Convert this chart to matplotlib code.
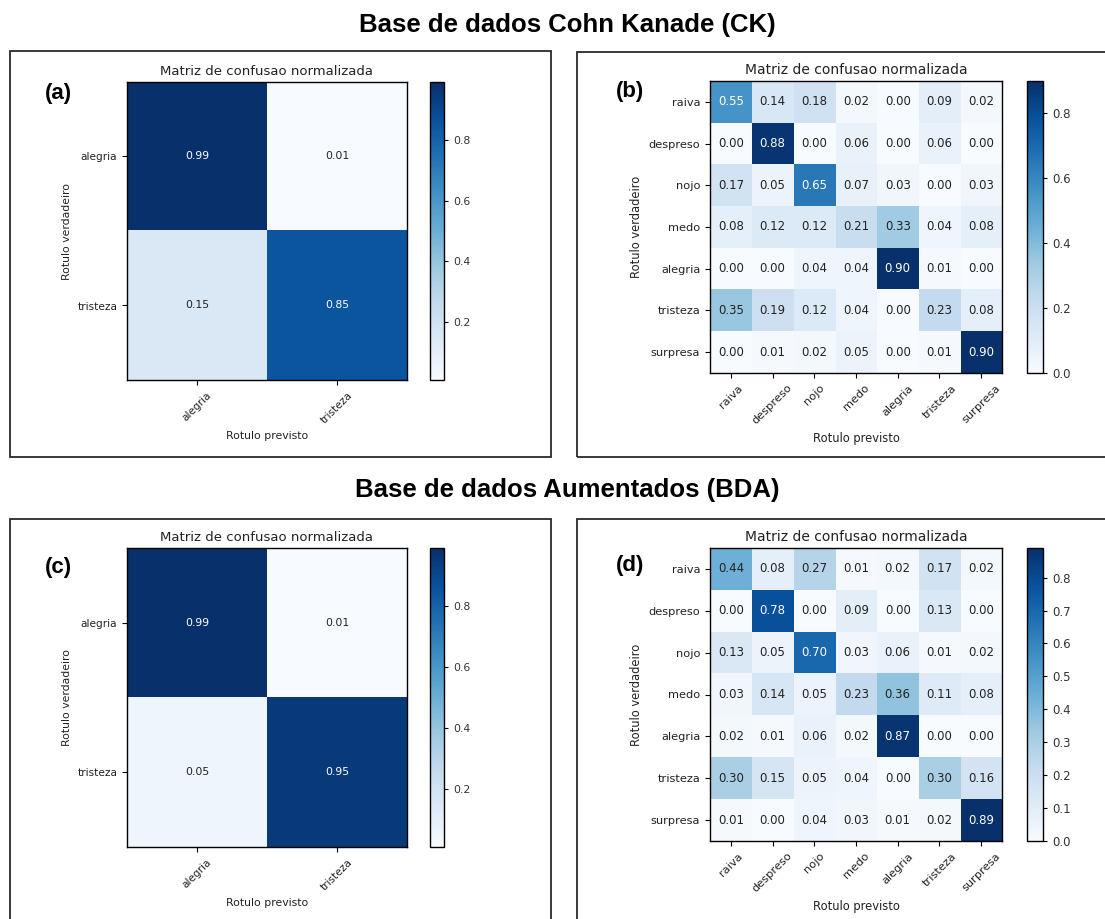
import numpy as np
import matplotlib
matplotlib.use("Agg")
import matplotlib.pyplot as plt
from matplotlib.patches import Rectangle

# Class labels
classes_2 = ["alegria", "tristeza"]
classes_7 = ["raiva", "despreso", "nojo", "medo", "alegria", "tristeza", "surpresa"]

# Normalized confusion matrices (rows: true label, cols: predicted label)
cm_ck_2 = [[0.99, 0.01],
           [0.15, 0.85]]

cm_ck_7 = [[0.55, 0.14, 0.18, 0.02, 0.00, 0.09, 0.02],
           [0.00, 0.88, 0.00, 0.06, 0.00, 0.06, 0.00],
           [0.17, 0.05, 0.65, 0.07, 0.03, 0.00, 0.03],
           [0.08, 0.12, 0.12, 0.21, 0.33, 0.04, 0.08],
           [0.00, 0.00, 0.04, 0.04, 0.90, 0.01, 0.00],
           [0.35, 0.19, 0.12, 0.04, 0.00, 0.23, 0.08],
           [0.00, 0.01, 0.02, 0.05, 0.00, 0.01, 0.90]]

cm_bda_2 = [[0.99, 0.01],
            [0.05, 0.95]]

cm_bda_7 = [[0.44, 0.08, 0.27, 0.01, 0.02, 0.17, 0.02],
            [0.00, 0.78, 0.00, 0.09, 0.00, 0.13, 0.00],
            [0.13, 0.05, 0.70, 0.03, 0.06, 0.01, 0.02],
            [0.03, 0.14, 0.05, 0.23, 0.36, 0.11, 0.08],
            [0.02, 0.01, 0.06, 0.02, 0.87, 0.00, 0.00],
            [0.30, 0.15, 0.05, 0.04, 0.00, 0.30, 0.16],
            [0.01, 0.00, 0.04, 0.03, 0.01, 0.02, 0.89]]

panel_letters = ["(a)", "(b)", "(c)", "(d)"]
cbar_ticks_2 = [0.2, 0.4, 0.6, 0.8]
cbar_ticks_ck7 = [0.0, 0.2, 0.4, 0.6, 0.8]
cbar_ticks_bda7 = [0.0, 0.1, 0.2, 0.3, 0.4, 0.5, 0.6, 0.7, 0.8]

W, H = 1105, 919
fig = plt.figure(figsize=(W / 100, H / 100), dpi=100)

# Font sizes for the small (2-class) and large (7-class) panels
SMALL = dict(title=9.5, tick=7.6, label=7.8, cell=7.8, cbar=7.8)
LARGE = dict(title=10, tick=8.2, label=8.3, cell=8.5, cbar=8.5)


def rect(x0, y0, x1, y1):
    """Pixel box (top-left origin) -> figure fraction [l, b, w, h]."""
    return [x0 / W, 1 - y1 / H, (x1 - x0) / W, (y1 - y0) / H]


def plot_cm(cm, classes, ax_box, cb_box, cticks, fs):
    cm = np.array(cm)
    ax = fig.add_axes(rect(*ax_box))
    cax = fig.add_axes(rect(*cb_box))
    im = ax.imshow(cm, interpolation="nearest", cmap=plt.cm.Blues,
                   aspect="auto")
    ax.set_title("Matriz de confusao normalizada", fontsize=fs["title"],
                 pad=5, color="#222222")
    cb = fig.colorbar(im, cax=cax, ticks=cticks)
    cb.ax.tick_params(labelsize=fs["cbar"], length=3, width=0.8,
                      labelcolor="#333333")
    cb.outline.set_linewidth(1.0)
    marks = np.arange(len(classes))
    ax.set_xticks(marks)
    ax.set_xticklabels(classes, rotation=45, fontsize=fs["tick"])
    ax.set_yticks(marks)
    ax.set_yticklabels(classes, fontsize=fs["tick"])
    ax.tick_params(length=3.5, width=0.8, labelcolor="#222222")
    thresh = cm.max() / 2.0
    for i in range(cm.shape[0]):
        for j in range(cm.shape[1]):
            ax.text(j, i, format(cm[i, j], ".2f"),
                    ha="center", va="center", fontsize=fs["cell"],
                    color="white" if cm[i, j] > thresh else "#222222")
    ax.set_ylabel("Rotulo verdadeiro", fontsize=fs["label"], color="#222222")
    ax.set_xlabel("Rotulo previsto", fontsize=fs["label"], color="#222222")
    for s in ax.spines.values():
        s.set_linewidth(1.0)
    return ax


plot_cm(cm_ck_2, classes_2, (127, 82, 407, 380), (430, 82, 444, 380),
        cbar_ticks_2, SMALL)
plot_cm(cm_ck_7, classes_7, (710, 81, 1002, 373), (1027, 81, 1043, 373),
        cbar_ticks_ck7, LARGE)
plot_cm(cm_bda_2, classes_2, (127, 548, 407, 847), (430, 548, 444, 847),
        cbar_ticks_2, SMALL)
plot_cm(cm_bda_7, classes_7, (710, 548, 1002, 841), (1027, 548, 1043, 841),
        cbar_ticks_bda7, LARGE)

# Frames around each panel
for (x0, y0, x1, y1) in [(10, 51, 551, 457), (577, 52, 1115, 457),
                         (10, 519, 551, 930), (577, 519, 1115, 930)]:
    l, b, w, h = rect(x0, y0, x1, y1)
    fig.patches.append(Rectangle((l, b), w, h, transform=fig.transFigure,
                                 fill=False, edgecolor="#2a2a2a",
                                 linewidth=1.3, clip_on=False))

# Panel letters
for letter, (x, y) in zip(panel_letters, [(58, 93), (630, 92), (58, 567), (630, 565)]):
    fig.text(x / W, 1 - y / H, letter, ha="center", va="center",
             fontsize=16, fontweight="bold", family="Liberation Sans")

# Section headings
fig.text(567 / W, 1 - 25 / H, "Base de dados Cohn Kanade (CK)",
         ha="center", va="center", fontsize=18.5, fontweight="bold",
         family="Liberation Sans")
fig.text(567 / W, 1 - 490 / H, "Base de dados Aumentados (BDA)",
         ha="center", va="center", fontsize=18.5, fontweight="bold",
         family="Liberation Sans")

fig.savefig("out.png", dpi=100)
